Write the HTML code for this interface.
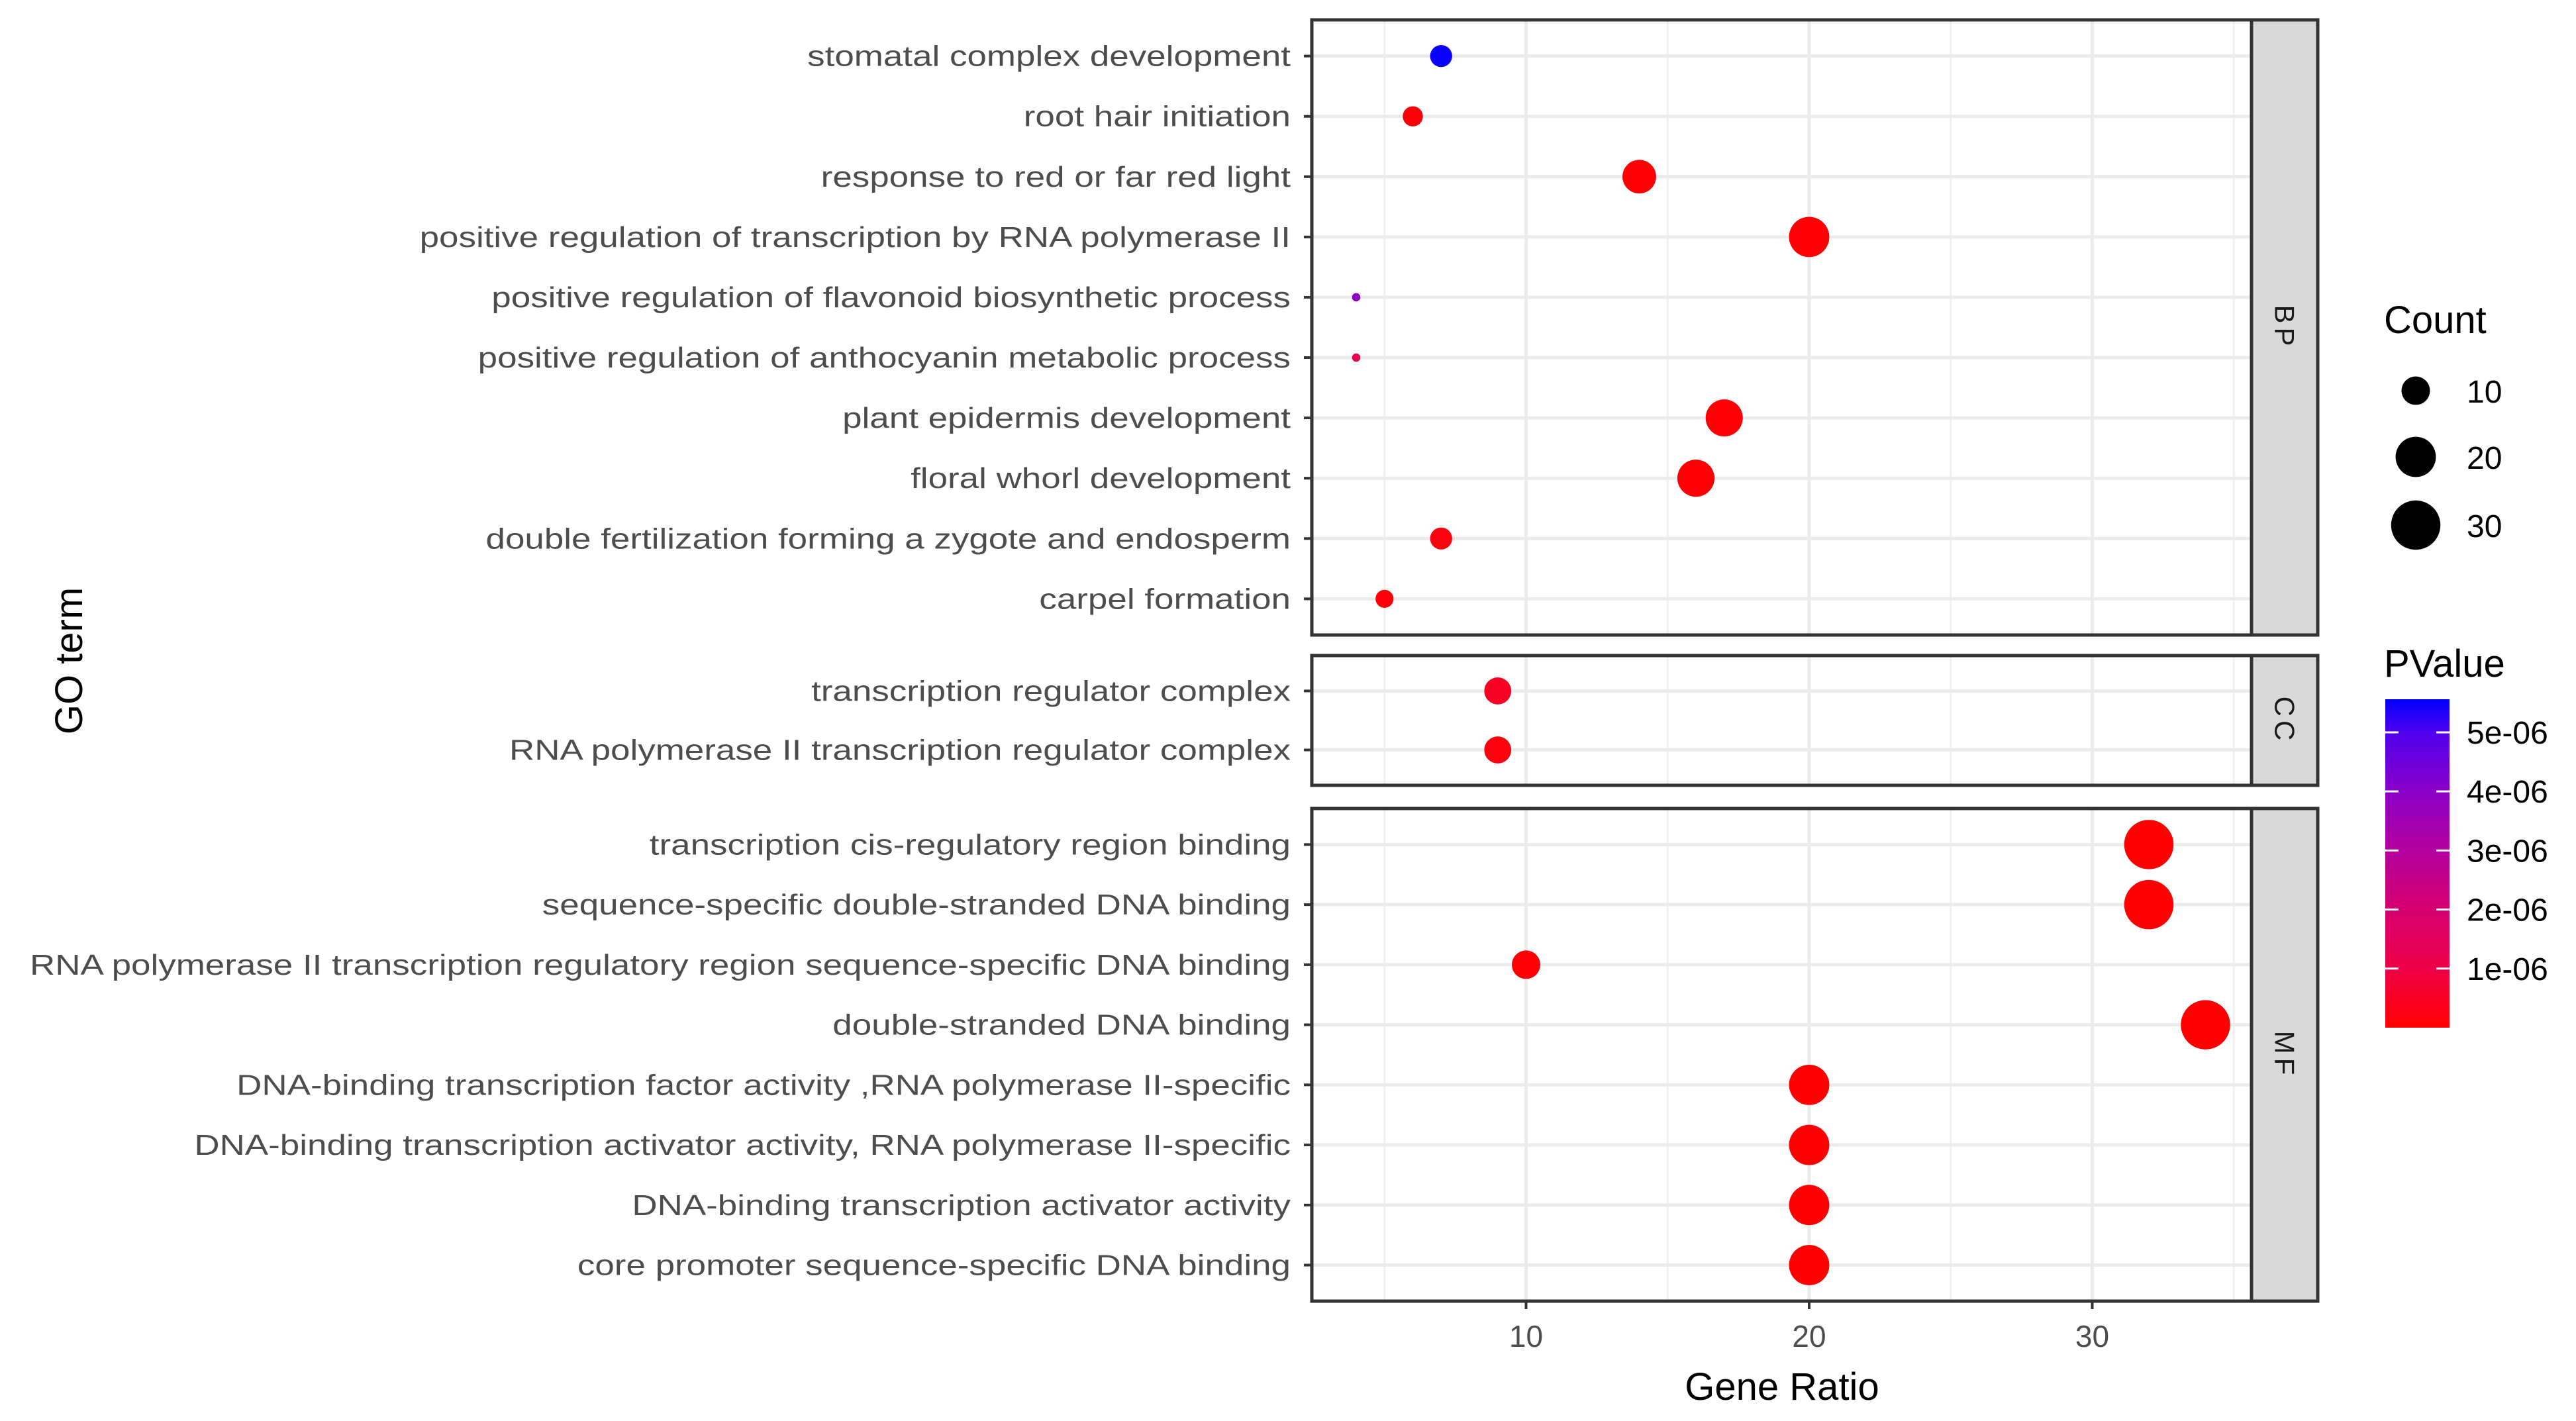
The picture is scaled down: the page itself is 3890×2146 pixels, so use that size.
<!DOCTYPE html>
<html><head><meta charset="utf-8"><style>
html,body{margin:0;padding:0;background:#fff;}
svg{display:block;font-family:"Liberation Sans",Arial,sans-serif;}
</style></head><body>
<svg id="chart" width="3890" height="2146" viewBox="0 0 3890 2146" xmlns="http://www.w3.org/2000/svg">
<defs>
<linearGradient id="pgrad" x1="0" y1="1" x2="0" y2="0">
<stop offset="0" stop-color="#ff0000"/>
<stop offset="0.18" stop-color="#ee0048"/>
<stop offset="0.36" stop-color="#d5006f"/>
<stop offset="0.54" stop-color="#b4009d"/>
<stop offset="0.72" stop-color="#8a00c8"/>
<stop offset="0.9" stop-color="#4f00ee"/>
<stop offset="1" stop-color="#0000ff"/>
</linearGradient>
</defs>
</svg>
<script>
const bpTerms=["stomatal complex development","root hair initiation","response to red or far red light","positive regulation of transcription by RNA polymerase II","positive regulation of flavonoid biosynthetic process","positive regulation of anthocyanin metabolic process","plant epidermis development","floral whorl development","double fertilization forming a zygote and endosperm","carpel formation"];
const bpRatio=[7,6,14,20,4,4,17,16,7,5];
const bpCount=[6,5,14,20,1.5,1.5,17,17,6,4];
const bpP=[5.5e-6,0.1e-6,0.05e-6,0.05e-6,3.9e-6,1.2e-6,0.05e-6,0.05e-6,0.2e-6,0.1e-6];
const ccTerms=["transcription regulator complex","RNA polymerase II transcription regulator complex"];
const ccRatio=[9,9];
const ccCount=[9,9];
const ccP=[0.5e-6,0.2e-6];
const mfTerms=["transcription cis-regulatory region binding","sequence-specific double-stranded DNA binding","RNA polymerase II transcription regulatory region sequence-specific DNA binding","double-stranded DNA binding","DNA-binding transcription factor activity ,RNA polymerase II-specific","DNA-binding transcription activator activity, RNA polymerase II-specific","DNA-binding transcription activator activity","core promoter sequence-specific DNA binding"];
const mfRatio=[32,32,10,34,20,20,20,20];
const mfCount=[30,30,10,30,20,20,20,20];
const mfP=[0.01e-6,0.01e-6,0.05e-6,0.01e-6,0.02e-6,0.02e-6,0.02e-6,0.02e-6];
const xTicks=[10,20,30];
const sizeLegend=[10,20,30];
const pTicks=[1e-6,2e-6,3e-6,4e-6,5e-6];
const pTickLabels=["1e-06","2e-06","3e-06","4e-06","5e-06"];

const svg=document.getElementById('chart');
const NS="http://www.w3.org/2000/svg";
function el(tag,attrs,parent){const e=document.createElementNS(NS,tag);for(const k in attrs)e.setAttribute(k,attrs[k]);(parent||svg).appendChild(e);return e;}
const L=1981,R=3400,SR=3500;
const xs=v=>1877+(v)*42.75;
const panels=[
 {name:"BP",terms:bpTerms,ratio:bpRatio,count:bpCount,p:bpP,top:30,bottom:959},
 {name:"CC",terms:ccTerms,ratio:ccRatio,count:ccCount,p:ccP,top:990,bottom:1186},
 {name:"MF",terms:mfTerms,ratio:mfRatio,count:mfCount,p:mfP,top:1221,bottom:1965}
];
const dia=c=>13.6*Math.sqrt(c)+ (c<3?-4:0);
const stops=[[0,[255,0,0]],[0.18,[238,0,72]],[0.36,[213,0,111]],[0.54,[180,0,157]],[0.72,[138,0,200]],[0.9,[79,0,238]],[1,[0,0,255]]];
const pmax=5.56e-6;
function pcol(p){const t=Math.max(0,Math.min(1,p/pmax));for(let i=1;i<stops.length;i++){if(t<=stops[i][0]){const a=stops[i-1],b=stops[i];const f=(t-a[0])/(b[0]-a[0]);const c=a[1].map((v,j)=>Math.round(v+(b[1][j]-v)*f));return `rgb(${c.join(',')})`;}}return 'rgb(0,0,255)';}
const labels=[];
panels.forEach(pn=>{
 const g=el('g',{});
 
 
 const n=pn.terms.length;
 const step=(pn.bottom-pn.top)/(n-1+1.2);
 const ys=i=>pn.top+step*(0.6+i);
 el('rect',{x:L,y:pn.top,width:R-L,height:pn.bottom-pn.top,fill:'#fff'},g);
 [5,15,25,35].forEach(v=>el('line',{x1:xs(v),x2:xs(v),y1:pn.top,y2:pn.bottom,stroke:'#f0f0f0','stroke-width':3},g));
 xTicks.forEach(v=>el('line',{x1:xs(v),x2:xs(v),y1:pn.top,y2:pn.bottom,stroke:'#ebebeb','stroke-width':5},g));
 pn.terms.forEach((t,i)=>{
  el('line',{x1:L,x2:R,y1:ys(i),y2:ys(i),stroke:'#ebebeb','stroke-width':5},g);
  el('line',{x1:1969,x2:L,y1:ys(i),y2:ys(i),stroke:'#333','stroke-width':4},g);
  const tx=el('text',{x:1949,y:ys(i)+15,'text-anchor':'end','font-size':44,fill:'#4d4d4d'},g);
  tx.textContent=t;
  
  
  labels.push(tx);
 });
 pn.terms.forEach((t,i)=>{
  const d=dia(pn.count[i]);
  const c=el('ellipse',{cx:xs(pn.ratio[i]),cy:ys(i),rx:d/2,ry:d/2,fill:pcol(pn.p[i])},g);
  
  
 });
 el('rect',{x:L,y:pn.top,width:R-L,height:pn.bottom-pn.top,fill:'none',stroke:'#333','stroke-width':5},g);
 const s=el('rect',{x:R,y:pn.top,width:SR-R,height:pn.bottom-pn.top,fill:'#d9d9d9',stroke:'#333','stroke-width':5},g);
 
 
 const cy=(pn.top+pn.bottom)/2, cx=(R+SR)/2;
 const st=el('text',{x:cx,y:cy,'text-anchor':'middle','dominant-baseline':'central','font-size':42,fill:'#1a1a1a','letter-spacing':6,transform:`rotate(90 ${cx} ${cy})`},g);
 st.textContent=pn.name;
 
 
});
// stretch labels so longest spans x=45..1949 like the reference
let maxW=0;labels.forEach(t=>{maxW=Math.max(maxW,t.getComputedTextLength());});
if(maxW>0){const k=1904/maxW;labels.forEach(t=>{const w=t.getComputedTextLength();t.setAttribute('textLength',(w*k).toFixed(1));t.setAttribute('lengthAdjust','spacingAndGlyphs');});}

xTicks.forEach(v=>{
 el('line',{x1:xs(v),x2:xs(v),y1:1965,y2:1977,stroke:'#333','stroke-width':4});
 const t=el('text',{x:xs(v),y:2034,'text-anchor':'middle','font-size':46,fill:'#4d4d4d'});
 t.textContent=v;
 
 
});
let t=el('text',{x:2691,y:2114,'text-anchor':'middle','font-size':58,fill:'#000'});
t.textContent='Gene Ratio';


t=el('text',{x:124,y:998,'text-anchor':'middle','font-size':58,fill:'#000',transform:'rotate(-90 124 998)'});
t.textContent='GO term';



t=el('text',{x:3600,y:503,'font-size':58,fill:'#000'});
t.textContent='Count';


const legY=[590,690,793];
sizeLegend.forEach((v,i)=>{
 const c=el('circle',{cx:3648,cy:legY[i],r:dia(v)/2,fill:'#000'});
 
 
 const tx=el('text',{x:3725,y:legY[i]+18,'font-size':48,fill:'#000'});
 tx.textContent=v;
 
 
});
t=el('text',{x:3600,y:1022,'font-size':58,fill:'#000'});
t.textContent='PValue';


const cbTop=1056,cbBot=1552;
const cb=el('rect',{x:3602,y:cbTop,width:97,height:cbBot-cbTop,fill:'url(#pgrad)'});


const py=v=>cbBot-(v/pmax)*(cbBot-cbTop);
pTicks.forEach((v,i)=>{
 el('line',{x1:3602,x2:3622,y1:py(v),y2:py(v),stroke:'#fff','stroke-width':3});
 el('line',{x1:3679,x2:3699,y1:py(v),y2:py(v),stroke:'#fff','stroke-width':3});
 const tx=el('text',{x:3725,y:py(v)+17,'font-size':48,fill:'#000'});
 tx.textContent=pTickLabels[i];
 
 
});
</script>
</body></html>
